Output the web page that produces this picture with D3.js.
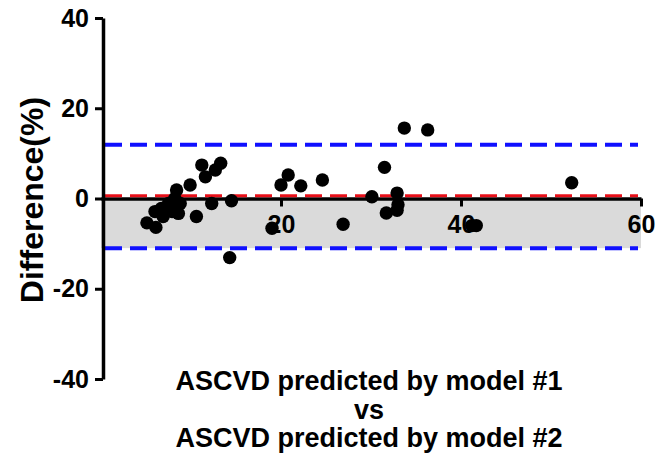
<!DOCTYPE html>
<html>
<head>
<meta charset="utf-8">
<script src="https://cdn.jsdelivr.net/npm/d3@7"></script>
<style>
  body { margin: 0; background: #fff; }
  svg { display: block; font-family: "Liberation Sans", Arial, sans-serif; font-weight: bold; }
</style>
</head>
<body>
<div id="chart"></div>
<script>
// Bland-Altman data: mean of the two models vs their difference
const meanValues = [5.1, 6.1, 6.0, 6.7, 6.9, 7.5, 7.9, 8.4, 8.2, 8.8, 8.6, 9.9, 10.6, 11.2, 11.6, 12.3, 12.7, 13.3, 14.5, 14.3,
  19.0, 20.0, 20.8, 22.2, 24.6, 26.9, 30.1, 31.5, 31.7, 32.9, 33.0, 32.9, 33.7, 36.3, 41.2, 41.7, 52.3];
const differences = [-5.4, -6.4, -2.9, -2.2, -4.0, -1.1, -2.9, 1.9, 0.0, -1.1, -3.3, 3.0, -4.0, 7.4, 4.8, -1.1, 6.3, 7.8, -0.5, -13.1,
  -6.6, 3.0, 5.2, 2.8, 4.1, -5.7, 0.4, 6.9, -3.2, 1.2, -1.4, -2.6, 15.6, 15.2, -6.0, -6.0, 3.5];
const bias = 0.6;
const upperLimit = 11.9;
const lowerLimit = -11.0;
const xTicks = [20, 40, 60];
const yTicks = [-40, -20, 0, 20, 40];
const titleLines = ['ASCVD predicted by model #1', 'vs', 'ASCVD predicted by model #2'];

const width = 670, height = 461;

const x = d3.scaleLinear().domain([0, 60]).range([101, 641]);
const y = d3.scaleLinear().domain([-40, 40]).range([379, 18]);

const svg = d3.select('#chart').append('svg')
  .attr('width', width)
  .attr('height', height);

// grey band between zero and lower limit
svg.append('rect')
  .attr('x', x(0))
  .attr('y', y(0))
  .attr('width', x(60) - x(0))
  .attr('height', y(lowerLimit) - y(0))
  .attr('fill', '#dadada');

// limits of agreement
[upperLimit, lowerLimit].forEach(v => {
  svg.append('line')
    .attr('x1', x(0) + 4).attr('x2', x(60) - 3)
    .attr('y1', y(v)).attr('y2', y(v))
    .attr('stroke', '#1010ff')
    .attr('stroke-width', 4)
    .attr('stroke-dasharray', '17,8');
});

// x axis at zero
const xAxis = svg.append('g')
  .attr('transform', `translate(0,${y(0)})`)
  .call(d3.axisBottom(x).tickValues(xTicks).tickSize(8).tickSizeOuter(0).tickFormat(d => String(d)));
xAxis.select('.domain').attr('stroke-width', 3.5);
xAxis.selectAll('.tick line').attr('stroke-width', 3);
xAxis.selectAll('.tick text')
  .attr('y', 34).attr('dy', 0)
  .style('font-size', '25px')
  .attr('fill', '#000');

// bias line
svg.append('line')
  .attr('x1', x(0) + 4).attr('x2', x(60) - 3)
  .attr('y1', y(bias)).attr('y2', y(bias))
  .attr('stroke', '#e8101a')
  .attr('stroke-width', 3)
  .attr('stroke-dasharray', '17,8');

// y axis
const yAxis = svg.append('g')
  .attr('transform', `translate(${x(0) + 2},0)`)
  .call(d3.axisLeft(y).tickValues(yTicks).tickSize(8).tickSizeOuter(0).tickPadding(6)
    .tickFormat(d => String(d)));
yAxis.select('.domain').attr('stroke-width', 3.5);
yAxis.selectAll('.tick line').attr('stroke-width', 3);
yAxis.selectAll('.tick text')
  .style('font-size', '25px')
  .attr('fill', '#000');

// points
svg.selectAll('.dot')
  .data(meanValues.map((m, i) => ({ m, d: differences[i] })))
  .enter()
  .append('circle')
  .attr('class', 'dot')
  .attr('cx', p => x(p.m))
  .attr('cy', p => y(p.d))
  .attr('r', 6.7)
  .attr('fill', '#000');

// y label
svg.append('text')
  .attr('transform', 'translate(43,200) rotate(-90)')
  .attr('text-anchor', 'middle')
  .style('font-size', '32px')
  .text('Difference(%)');

// x title
svg.selectAll('.xtitle')
  .data(titleLines)
  .enter()
  .append('text')
  .attr('class', 'xtitle')
  .attr('x', 369)
  .attr('y', (d, i) => 390 + i * 28.5)
  .attr('text-anchor', 'middle')
  .style('font-size', '27px')
  .text(d => d);
</script>
</body>
</html>
